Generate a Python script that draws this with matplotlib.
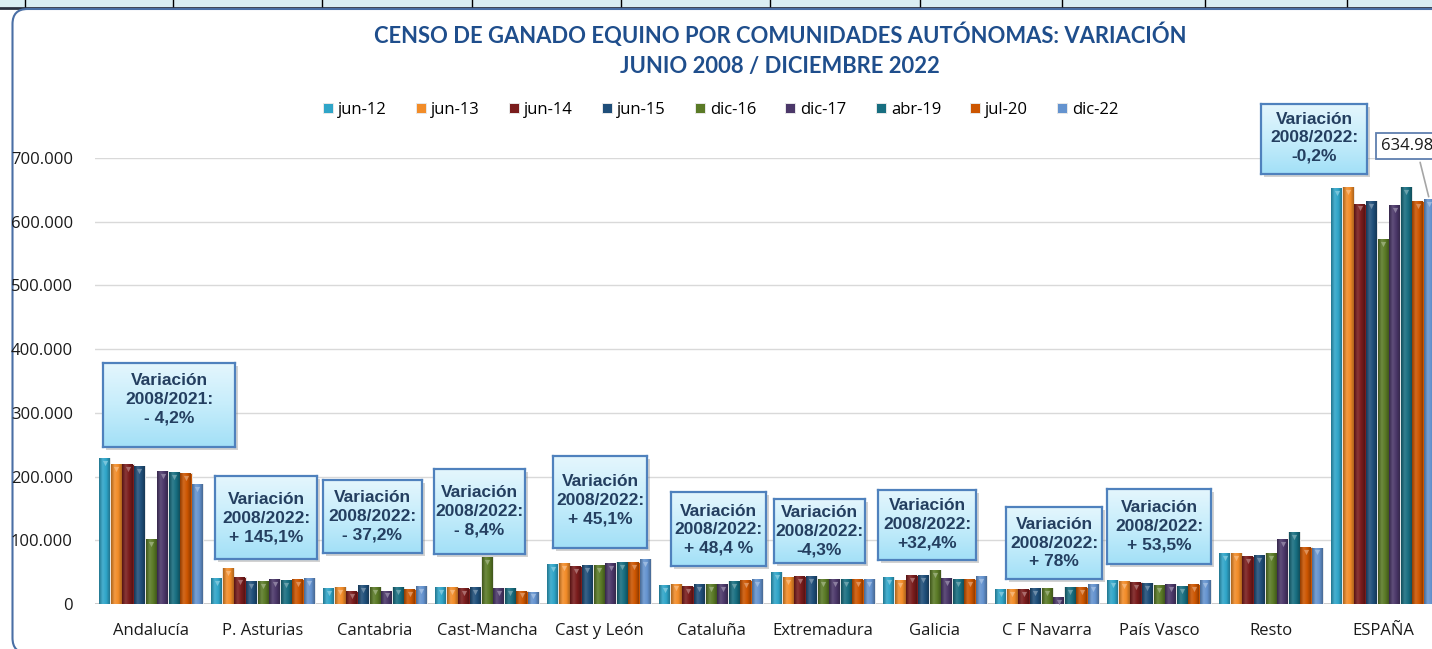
import numpy as np
import matplotlib
matplotlib.use("Agg")
import matplotlib.pyplot as plt
from matplotlib.patches import Rectangle, FancyBboxPatch
from matplotlib.colors import to_rgb, LinearSegmentedColormap
from matplotlib.transforms import IdentityTransform, offset_copy

# ---------------- data ----------------
categories = ["Andalucía", "P. Asturias", "Cantabria", "Cast-Mancha", "Cast y León",
              "Cataluña", "Extremadura", "Galicia", "C F Navarra", "País Vasco",
              "Resto", "ESPAÑA"]
series_labels = ["jun-12", "jun-13", "jun-14", "jun-15", "dic-16", "dic-17",
                 "abr-19", "jul-20", "dic-22"]
jun_12 = [228500, 41000, 24500, 26000, 63000, 30000, 50000, 42000, 23000, 37000, 79500, 653000]
jun_13 = [220000, 56000, 27000, 26000, 64500, 32000, 42000, 38000, 23000, 35500, 79500, 655000]
jun_14 = [220000, 42500, 20500, 24500, 60000, 28500, 43500, 45000, 23000, 34000, 75000, 628500]
jun_15 = [217000, 35500, 30000, 26000, 61500, 31500, 43500, 45000, 25000, 32500, 77000, 632000]
dic_16 = [102000, 35500, 27000, 74000, 61500, 31500, 39500, 53000, 25000, 30000, 80500, 572500]
dic_17 = [209000, 39000, 21000, 24500, 64500, 31500, 39500, 40500, 10500, 31500, 101500, 626500]
abr_19 = [207500, 37500, 26000, 24500, 65500, 35500, 39500, 38500, 27000, 28500, 112500, 654000]
jul_20 = [205000, 38500, 24000, 21000, 66000, 37000, 39500, 39500, 27000, 31500, 90000, 632000]
dic_22 = [188000, 41000, 27500, 19500, 70000, 38500, 39500, 43500, 31000, 37000, 88500, 634982]
all_series = [jun_12, jun_13, jun_14, jun_15, dic_16, dic_17, abr_19, jul_20, dic_22]
y_ticks = [0, 100000, 200000, 300000, 400000, 500000, 600000, 700000]

annot_texts = ["Variación\n2008/2021:\n- 4,2%",
               "Variación\n2008/2022:\n+ 145,1%",
               "Variación\n2008/2022:\n- 37,2%",
               "Variación\n2008/2022:\n- 8,4%",
               "Variación\n2008/2022:\n+ 45,1%",
               "Variación\n2008/2022:\n+ 48,4 %",
               "Variación\n2008/2022:\n-4,3%",
               "Variación\n2008/2022:\n+32,4%",
               "Variación\n2008/2022:\n+ 78%",
               "Variación\n2008/2022:\n+ 53,5%",
               "Variación\n2008/2022:\n-0,2%"]
# box extents in pixels (x0, y0, x1, y1), y from top
annot_boxes = [(103, 363, 235, 447), (215, 476, 317, 559), (323, 480, 422, 553),
               (434, 469, 525, 554), (553, 456, 647, 548), (671, 492, 766, 566),
               (774, 499, 865, 563), (878, 490, 976, 560), (1006, 507, 1102, 579),
               (1107, 489, 1211, 564), (1261, 104, 1367, 174)]
annot_text_y = [0.57, 0.49, 0.5, 0.5, 0.52, 0.49, 0.5, 0.51, 0.5, 0.5, 0.52]

colors = ["#2FA5C8", "#F28C28", "#7A1C1C", "#1F4E79", "#5A7A26",
          "#4B3769", "#176E80", "#CC5500", "#6493CF"]

# ---------------- figure ----------------
W, H = 1432, 649
fig = plt.figure(figsize=(W / 100, H / 100), dpi=100)
fig.patch.set_facecolor("white")

def fx(px):
    return px / W

def fy(py):
    return 1 - py / H

# top strip (spreadsheet row)
fig.add_artist(Rectangle((0, H - 7), W, 7, transform=IdentityTransform(),
                         facecolor="#DAEEF3", edgecolor="none", zorder=0))
for xv in [25, 173, 322, 472, 621, 770, 920, 1062, 1205, 1347]:
    fig.add_artist(plt.Line2D([xv, xv], [H - 7, H], transform=IdentityTransform(),
                              color="black", lw=1, zorder=0.1))
fig.add_artist(plt.Line2D([0, W], [H - 7.5, H - 7.5], transform=IdentityTransform(),
                          color="#2A3140", lw=2, zorder=0.1))

# outer rounded frame
frame = FancyBboxPatch((12.5, -4), 1460, H - 9 + 4, boxstyle="round,pad=0,rounding_size=15",
                       transform=IdentityTransform(), facecolor="white",
                       edgecolor="#4A6FA5", lw=1.5, zorder=0.2)
fig.add_artist(frame)

ax = fig.add_axes([fx(95), fy(604), (1439 - 95) / W, (604 - 158) / H])
ax.set_zorder(1)
ax.patch.set_alpha(0)

n = len(series_labels)
w = 0.1035
x = np.arange(len(categories))

def shade(c, f):
    r = np.array(to_rgb(c))
    if f >= 1:
        return tuple(r + (1 - r) * (f - 1))
    return tuple(r * f)

handles = []
for i, (vals, lab, col) in enumerate(zip(all_series, series_labels, colors)):
    xs = x + (i - (n - 1) / 2) * w
    bars = ax.bar(xs, vals, width=w, color=col, edgecolor="#E8E8E8", linewidth=0.7,
                  zorder=2, label=lab)
    handles.append(bars)
    cmap = LinearSegmentedColormap.from_list(
        "g", [shade(col, 0.72), shade(col, 1.12), shade(col, 1.0), shade(col, 0.72)])
    grad = np.linspace(0, 1, 32).reshape(1, -1)
    for p in bars.patches:
        im = ax.imshow(grad, cmap=cmap, aspect="auto", zorder=2.1,
                       extent=[p.get_x() + 0.004, p.get_x() + p.get_width() - 0.004, 0, p.get_height()],
                       interpolation="bilinear")
        im.set_clip_path(p)
    tr = offset_copy(ax.transData, fig=fig, x=0, y=-3.5, units="points")
    ax.scatter(xs, vals, marker="v", s=14, color=shade(col, 1.35), zorder=3,
               transform=tr, linewidths=0)

ax.set_xlim(-0.5, len(categories) - 0.5)
ax.set_ylim(0, 700000)
ax.set_yticks(y_ticks)
ax.set_yticklabels([f"{v:,.0f}".replace(",", ".") for v in y_ticks],
                   family="Open Sans", fontsize=12, color="#1A1A1A")
ax.set_xticks(x)
ax.set_xticklabels(categories, family="Open Sans", fontsize=12, color="#1A1A1A")
ax.tick_params(axis="y", length=0, pad=16)
ax.tick_params(axis="x", length=0, pad=14)
for s in ax.spines.values():
    s.set_visible(False)
ax.grid(axis="y", color="#D9D9D9", lw=1, zorder=0)
ax.axhline(0, color="#BFBFBF", lw=1.2, zorder=1.5)

# data label for ESPAÑA dic-22 (cut at the right edge, as in the reference)
ax.annotate(f"{dic_22[-1]:,.0f}".replace(",", "."),
            xy=(x[-1] + (n - 1) / 2 * w, dic_22[-1]), xycoords="data",
            xytext=(fx(1381), fy(146)), textcoords="figure fraction",
            ha="left", va="center", family="Open Sans", fontsize=12, color="#1A1A1A",
            bbox=dict(boxstyle="square,pad=0.3", fc="white", ec="#5F7FAF", lw=1.3),
            arrowprops=dict(arrowstyle="-", color="#A6A6A6", lw=1.2, relpos=(0.6, 0)),
            annotation_clip=False, zorder=5)

# title
fig.text(fx(780), fy(35), "CENSO DE GANADO EQUINO POR COMUNIDADES AUTÓNOMAS: VARIACIÓN",
         ha="center", va="center", family="Lato", weight="bold", fontsize=15.8, color="#1F4E8C")
fig.text(fx(780), fy(66), "JUNIO 2008 / DICIEMBRE 2022",
         ha="center", va="center", family="Lato", weight="bold", fontsize=15.8, color="#1F4E8C")

# legend
fig.legend([h.patches[0] for h in handles], series_labels, ncol=9, loc="center",
           bbox_to_anchor=(fx(721), fy(110)), frameon=False,
           handlelength=0.6, handleheight=0.6, handletextpad=0.3, columnspacing=1.75,
           prop=dict(family="Open Sans", size=12))

# annotation boxes
box_cmap = LinearSegmentedColormap.from_list("box", ["#E4F6FD", "#C6EDFB", "#A3E0F7"])
for txt, (x0, y0, x1, y1), ty in zip(annot_texts, annot_boxes, annot_text_y):
    fig.add_artist(Rectangle((x0 + 3, H - y1 - 3), x1 - x0, y1 - y0,
                             transform=IdentityTransform(), facecolor="#7F7F7F",
                             alpha=0.35, edgecolor="none", zorder=2))
    bax = fig.add_axes([fx(x0), fy(y1), (x1 - x0) / W, (y1 - y0) / H])
    bax.set_zorder(3)
    bax.imshow(np.linspace(0, 1, 64).reshape(-1, 1), cmap=box_cmap, aspect="auto",
               extent=[0, 1, 0, 1], interpolation="bilinear")
    bax.set_xlim(0, 1)
    bax.set_ylim(0, 1)
    bax.set_xticks([])
    bax.set_yticks([])
    for s in bax.spines.values():
        s.set_color("#4F81BD")
        s.set_linewidth(1.6)
    bax.text(0.5, ty, txt, ha="center", va="center", family="Liberation Sans",
             weight="bold", fontsize=12.5, color="#243F60", linespacing=1.3)

fig.savefig("out.png", dpi=100)
